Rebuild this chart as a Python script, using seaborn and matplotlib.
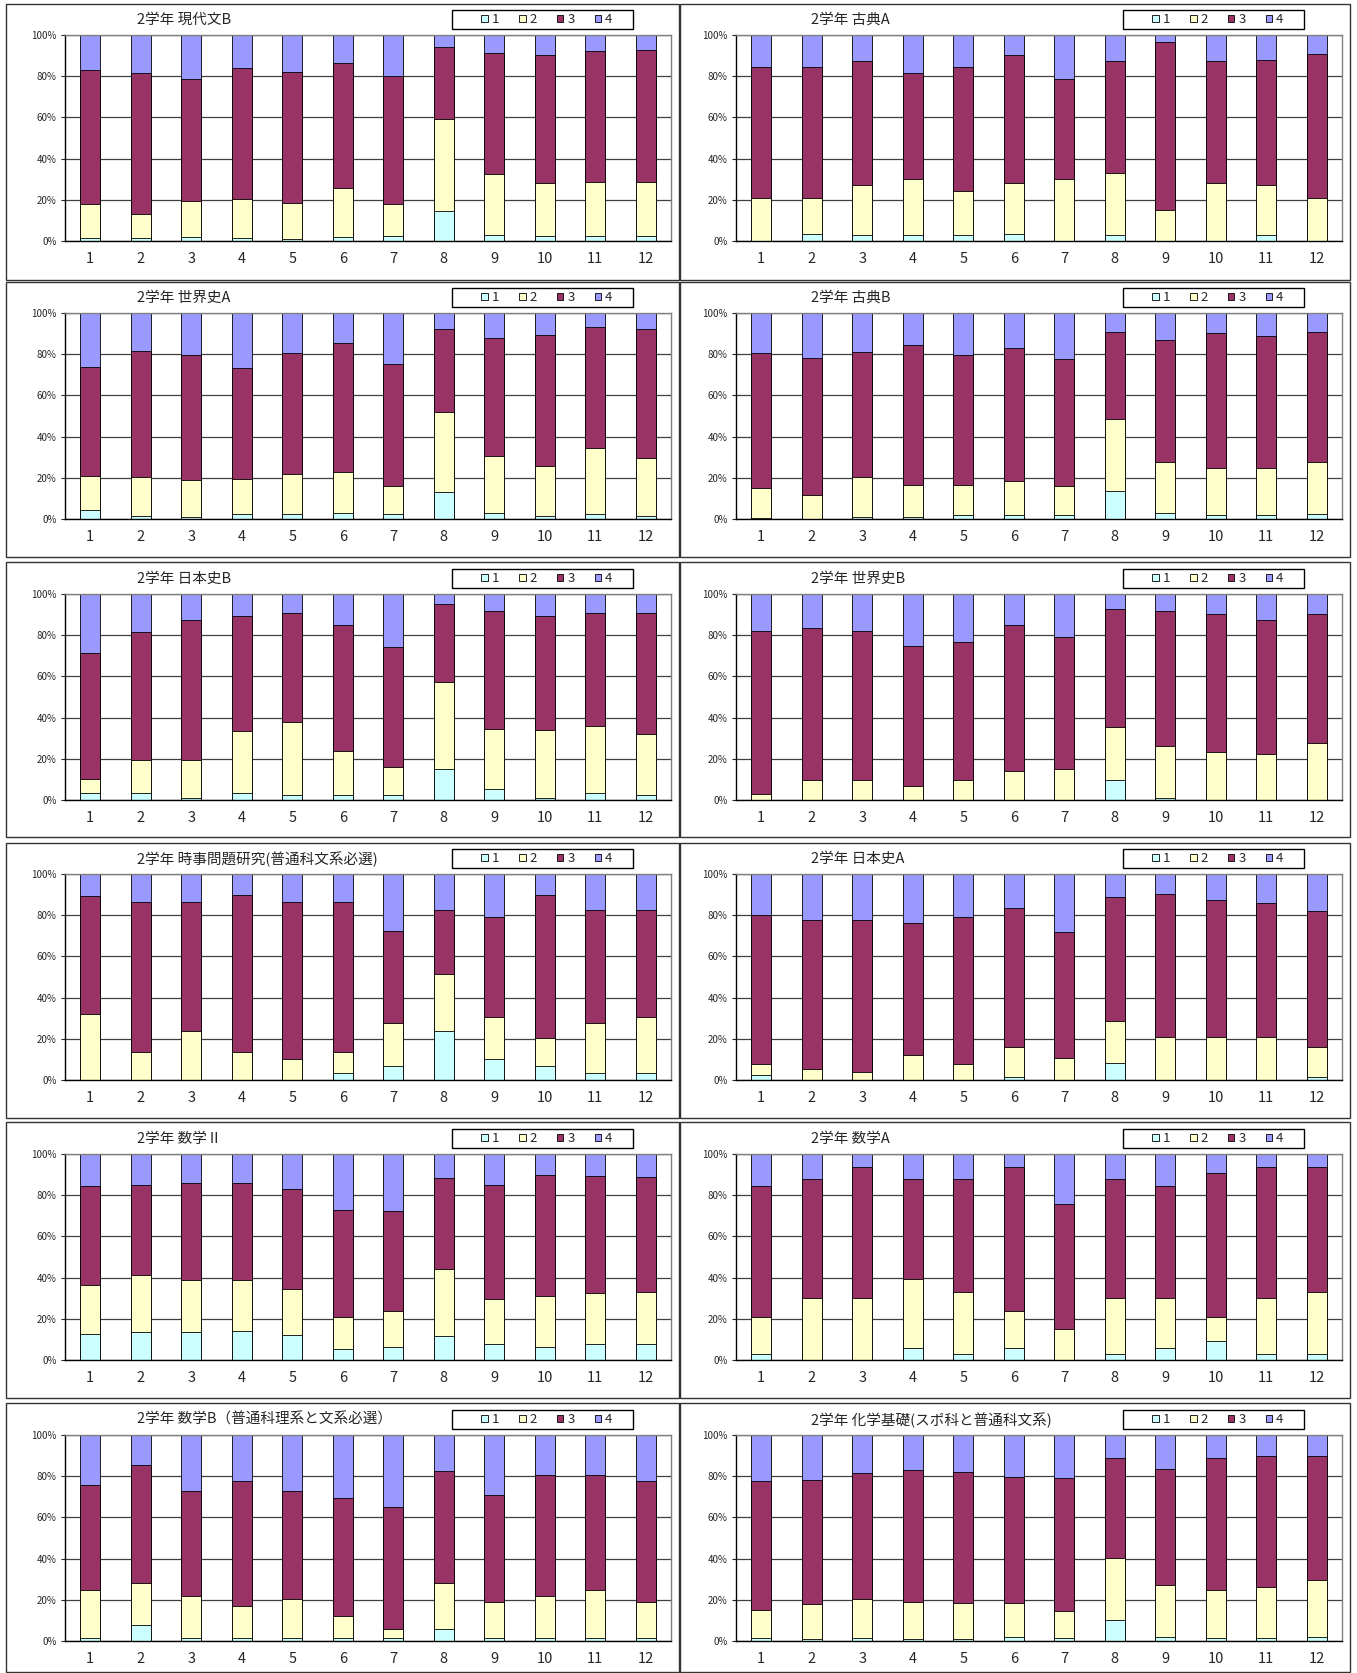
import numpy as np
import matplotlib
matplotlib.use("Agg")
import matplotlib.pyplot as plt
from matplotlib.patches import Patch, Rectangle
from matplotlib.ticker import PercentFormatter
import seaborn as sns

# classes 1-12, share (%) of students at each level 1..4
classes = [str(i) for i in range(1, 13)]
levels = ["1", "2", "3", "4"]
level_colors = ["#CCFFFF", "#FFFFCC", "#993366", "#9999FF"]

titles = [
    "2学年 現代文B", "2学年 古典A",
    "2学年 世界史A", "2学年 古典B",
    "2学年 日本史B", "2学年 世界史B",
    "2学年 時事問題研究(普通科文系必選)", "2学年 日本史A",
    "2学年 数学Ⅱ", "2学年 数学A",
    "2学年 数学B（普通科理系と文系必選）", "2学年 化学基礎(スポ科と普通科文系)",
]

gendaibun_b = [
    [1.6, 1.5, 2.0, 1.6, 1.0, 2.0, 2.4, 14.6, 2.7, 2.4, 2.4, 2.2],
    [16.4, 11.5, 17.5, 18.7, 17.3, 23.6, 15.8, 44.7, 29.8, 25.6, 26.4, 26.6],
    [65.0, 68.4, 59.1, 63.7, 63.9, 60.9, 61.8, 34.7, 58.7, 62.2, 63.3, 63.8],
    [17.0, 18.6, 21.4, 16.0, 17.8, 13.5, 20.0, 6.0, 8.8, 9.8, 7.9, 7.4],
]
koten_a = [
    [0.0, 3.2, 3.0, 3.0, 3.0, 3.3, 0.0, 3.0, 0.0, 0.0, 3.0, 0.0],
    [21.0, 17.8, 24.1, 27.0, 21.1, 24.7, 30.2, 30.1, 14.9, 28.0, 24.1, 21.0],
    [63.7, 63.7, 60.5, 51.7, 60.6, 62.5, 48.5, 54.5, 81.9, 59.6, 60.6, 69.8],
    [15.3, 15.3, 12.4, 18.3, 15.3, 9.5, 21.3, 12.4, 3.2, 12.4, 12.3, 9.2],
]
sekaishi_a = [
    [4.4, 1.6, 1.1, 2.4, 2.4, 2.9, 2.4, 13.1, 2.9, 1.6, 2.4, 1.6],
    [16.3, 18.6, 17.8, 17.0, 19.6, 19.9, 13.5, 38.7, 27.5, 24.1, 32.2, 27.8],
    [53.1, 61.4, 60.7, 54.1, 58.4, 62.6, 59.2, 40.4, 57.5, 63.6, 58.6, 62.8],
    [26.2, 18.4, 20.4, 26.5, 19.6, 14.6, 24.9, 7.8, 12.1, 10.7, 6.8, 7.8],
]
koten_b = [
    [0.4, 0.0, 1.1, 1.1, 1.8, 1.8, 1.8, 13.8, 2.9, 1.8, 1.8, 2.4],
    [14.5, 11.5, 19.3, 15.4, 14.7, 16.8, 14.4, 34.9, 24.6, 23.0, 23.0, 25.3],
    [65.7, 66.7, 60.8, 68.0, 62.9, 64.4, 61.6, 42.1, 59.4, 65.3, 64.0, 63.1],
    [19.4, 21.8, 18.8, 15.5, 20.6, 17.0, 22.2, 9.2, 13.1, 9.9, 11.2, 9.2],
]
nihonshi_b = [
    [3.5, 3.5, 1.1, 3.5, 2.2, 2.2, 2.2, 14.9, 5.5, 1.1, 3.5, 2.2],
    [6.8, 16.0, 18.4, 29.8, 35.6, 21.7, 14.0, 42.5, 29.2, 33.1, 32.2, 29.9],
    [60.9, 62.2, 67.7, 56.2, 53.2, 61.2, 58.1, 37.9, 57.1, 55.3, 55.1, 58.9],
    [28.8, 18.3, 12.8, 10.5, 9.0, 14.9, 25.7, 4.7, 8.2, 10.5, 9.2, 9.0],
]
sekaishi_b = [
    [0.0, 0.0, 0.0, 0.0, 0.0, 0.0, 0.0, 9.9, 1.1, 0.0, 0.0, 0.0],
    [2.7, 9.7, 9.7, 6.9, 9.7, 13.9, 15.2, 25.3, 25.2, 23.4, 22.1, 27.8],
    [79.2, 73.7, 72.2, 68.1, 66.9, 70.9, 64.0, 57.7, 65.3, 66.9, 65.5, 62.5],
    [18.1, 16.6, 18.1, 25.0, 23.4, 15.2, 20.8, 7.1, 8.4, 9.7, 12.4, 9.7],
]
jiji_mondai = [
    [0.0, 0.0, 0.0, 0.0, 0.0, 3.4, 6.9, 23.8, 10.0, 6.9, 3.4, 3.4],
    [31.9, 13.6, 23.8, 13.6, 10.0, 10.2, 20.7, 27.7, 20.8, 13.5, 24.2, 27.4],
    [57.4, 72.6, 62.4, 76.2, 76.2, 72.6, 44.8, 31.2, 48.5, 69.4, 55.1, 51.9],
    [10.7, 13.8, 13.8, 10.2, 13.8, 13.8, 27.6, 17.3, 20.7, 10.2, 17.3, 17.3],
]
nihonshi_a = [
    [2.6, 0.0, 0.0, 0.0, 0.0, 1.3, 0.0, 8.1, 0.0, 0.0, 0.0, 1.3],
    [5.3, 5.2, 3.9, 12.2, 7.9, 14.9, 10.9, 20.7, 20.7, 20.7, 20.7, 14.9],
    [72.3, 72.6, 73.9, 64.1, 71.4, 67.3, 60.9, 60.0, 69.6, 66.8, 65.4, 65.8],
    [19.8, 22.2, 22.2, 23.7, 20.7, 16.5, 28.2, 11.2, 9.7, 12.5, 13.9, 18.0],
]
sugaku_2 = [
    [12.8, 13.4, 13.4, 13.9, 12.3, 5.5, 6.5, 11.5, 7.6, 6.1, 7.6, 7.9],
    [23.7, 28.0, 25.5, 25.0, 22.4, 15.3, 17.4, 32.6, 22.1, 25.1, 25.0, 25.1],
    [48.0, 43.6, 47.0, 47.0, 48.5, 52.1, 48.6, 44.3, 55.3, 58.6, 56.7, 55.7],
    [15.5, 15.0, 14.1, 14.1, 16.8, 27.1, 27.5, 11.6, 15.0, 10.2, 10.7, 11.3],
]
sugaku_a = [
    [3.1, 0.0, 0.0, 6.0, 3.1, 6.0, 0.0, 3.1, 6.0, 9.0, 3.1, 3.1],
    [17.7, 30.2, 30.2, 33.3, 30.0, 17.9, 15.0, 27.1, 24.2, 11.8, 27.1, 30.0],
    [63.9, 57.7, 63.5, 48.6, 54.8, 69.8, 60.6, 57.7, 54.5, 70.0, 63.5, 60.6],
    [15.3, 12.1, 6.3, 12.1, 12.1, 6.3, 24.4, 12.1, 15.3, 9.2, 6.3, 6.3],
]
sugaku_b = [
    [1.3, 7.6, 1.3, 1.3, 1.3, 1.3, 1.3, 6.0, 1.3, 1.3, 1.3, 1.3],
    [23.5, 20.6, 20.5, 15.7, 18.9, 10.8, 4.5, 22.2, 17.5, 20.5, 23.5, 17.5],
    [51.1, 57.2, 50.9, 60.5, 52.5, 57.5, 59.1, 54.3, 52.2, 58.9, 55.9, 58.7],
    [24.1, 14.6, 27.3, 22.5, 27.3, 30.4, 35.1, 17.5, 29.0, 19.3, 19.3, 22.5],
]
kagaku_kiso = [
    [1.3, 0.8, 1.3, 0.8, 0.8, 2.1, 1.3, 10.0, 2.1, 1.6, 1.3, 1.8],
    [13.9, 17.0, 18.9, 18.1, 17.6, 16.3, 13.4, 30.1, 25.2, 23.0, 24.7, 28.0],
    [62.5, 60.2, 61.5, 64.3, 63.8, 61.2, 64.6, 48.9, 56.4, 64.4, 64.0, 60.2],
    [22.3, 22.0, 18.3, 16.8, 17.8, 20.4, 20.7, 11.0, 16.3, 11.0, 10.0, 10.0],
]

subjects = [gendaibun_b, koten_a, sekaishi_a, koten_b, nihonshi_b, sekaishi_b,
            jiji_mondai, nihonshi_a, sugaku_2, sugaku_a, sugaku_b, kagaku_kiso]

sns.set_style("white")
plt.rcParams["font.family"] = ["Noto Sans CJK JP", "DejaVu Sans"]

# layout in pixels
W, H = 1357, 1673
plot_left = [65, 736]
plot_w, plot_h = 606, 206
plot_top = [35, 313, 594, 874, 1154, 1435]
box_x = [(6, 679), (680, 1350)]
box_y = [(4, 280), (282, 557), (562, 837), (843, 1118), (1122, 1398), (1403, 1672)]
leg_x = (387, 568)   # legend frame, px from plot left
leg_y = (6, 25)      # legend frame, px above plot top

fig = plt.figure(figsize=(W / 100, H / 100), dpi=100)
fig.patch.set_facecolor("white")

handles = [Patch(facecolor=c, edgecolor="black", linewidth=0.6) for c in level_colors]

for i, (title, vals) in enumerate(zip(titles, subjects)):
    row, col = divmod(i, 2)
    x0, y0 = plot_left[col], plot_top[row]

    # panel frame
    bx0, bx1 = box_x[col]
    by0, by1 = box_y[row]
    fig.add_artist(Rectangle((bx0 / W, 1 - by1 / H), (bx1 - bx0) / W, (by1 - by0) / H,
                             transform=fig.transFigure, fill=False,
                             edgecolor="#333333", linewidth=1.0))

    ax = fig.add_axes([x0 / W, 1 - (y0 + plot_h) / H, plot_w / W, plot_h / H])
    cum = np.cumsum(np.array(vals), axis=0)
    # stacked bars: draw the running totals from the top level down
    for k in range(3, -1, -1):
        sns.barplot(x=classes, y=cum[k], order=classes, color=level_colors[k],
                    saturation=1, width=0.4, edgecolor="black", linewidth=0.6,
                    errorbar=None, ax=ax, zorder=2)

    ax.set_xlim(-0.5, 11.5)
    ax.set_ylim(0, 100)
    ax.set_yticks([0, 20, 40, 60, 80, 100])
    ax.yaxis.set_major_formatter(PercentFormatter(100, decimals=0))
    ax.set_axisbelow(True)
    ax.yaxis.grid(True, color="#404040", linewidth=0.9)
    ax.set_xlabel("")
    ax.set_ylabel("")

    ax.set_xticks(np.arange(0.5, 11, 1), minor=True)
    ax.tick_params(axis="x", which="major", length=0, pad=8, labelsize=10.5)
    ax.tick_params(axis="x", which="minor", direction="in", length=4, width=0.8, color="black")
    ax.tick_params(axis="y", labelsize=7, length=3, width=0.8, pad=3, left=True)

    for side in ["left", "bottom"]:
        ax.spines[side].set_color("black")
        ax.spines[side].set_linewidth(1.0)
    for side in ["top", "right"]:
        ax.spines[side].set_color("#808080")
        ax.spines[side].set_linewidth(1.0)

    fig.text((bx0 + 131) / W, 1 - (y0 - 15) / H, title, ha="left", va="center", fontsize=10.5)

    # legend: frameless entries inside a hand-drawn frame
    ax.add_patch(Rectangle((leg_x[0] / plot_w, 1 + leg_y[0] / plot_h),
                           (leg_x[1] - leg_x[0]) / plot_w, (leg_y[1] - leg_y[0]) / plot_h,
                           transform=ax.transAxes, fill=True, facecolor="white",
                           edgecolor="black", linewidth=1.0, clip_on=False))
    ax.legend(handles, levels, loc="center",
              bbox_to_anchor=(482 / plot_w, 1 + (leg_y[0] + leg_y[1]) / 2 / plot_h),
              ncol=4, frameon=False, fontsize=9.5,
              handlelength=0.5, handleheight=0.5, handletextpad=0.3, columnspacing=1.5,
              borderpad=0, borderaxespad=0)

fig.savefig("out.png", dpi=100, facecolor="white")
